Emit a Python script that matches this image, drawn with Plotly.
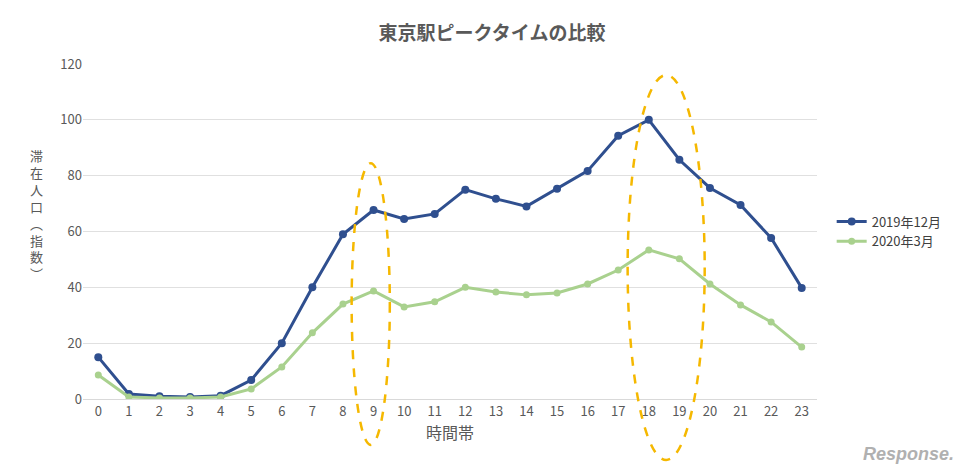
import plotly.graph_objects as go

hours = [str(h) for h in range(24)]
s2019 = [15, 1.8, 1, 0.7, 1.2, 6.8, 20, 40, 59, 67.7, 64.5, 66.3, 75, 71.7, 69, 75.3, 81.7, 94.3, 100, 85.7, 75.6, 69.5, 57.7, 39.8]
s2020 = [8.6, 0.7, 0.4, 0.4, 0.7, 3.6, 11.5, 23.7, 34, 38.7, 33, 34.8, 40, 38.3, 37.3, 38, 41.2, 46.2, 53.4, 50.2, 41.2, 33.7, 27.6, 18.6]
yticks = [0, 20, 40, 60, 80, 100, 120]
ylabel_chars = ["滞", "在", "人", "口", "︵", "指", "数", "︶"]

F = "Noto Sans CJK JP"
fig = go.Figure()
fig.add_trace(go.Scatter(x=hours, y=s2019, name="2019年12月", mode="lines+markers",
                         line=dict(color="#2F4F8F", width=3), marker=dict(size=8, color="#2F4F8F")))
fig.add_trace(go.Scatter(x=hours, y=s2020, name="2020年3月", mode="lines+markers",
                         line=dict(color="#A9D18E", width=3), marker=dict(size=7, color="#A9D18E")))

for x0, x1, y0, y1 in [(0.366, 0.418, -0.137, 0.704), (0.742, 0.847, -0.182, 0.967)]:
    fig.add_shape(type="circle", xref="paper", yref="paper", x0=x0, x1=x1, y0=y0, y1=y1,
                  line=dict(color="#F5B800", width=2.5, dash="dash"))

fig.add_annotation(text="<br>".join(ylabel_chars), xref="paper", yref="paper", x=-0.075, y=0.55,
                   showarrow=False, font=dict(size=13, color="#595959", family=F), align="center")
fig.add_annotation(text="<i><b>Response.</b></i>", xref="paper", yref="paper", x=1.19, xanchor="right",
                   y=-0.2, showarrow=False, font=dict(size=18, color="#B0B0B0", family="Liberation Sans"))

fig.update_layout(
    width=968, height=472, paper_bgcolor="white", plot_bgcolor="white",
    margin=dict(l=75, r=159, t=56, b=81),
    title=dict(text="<b>東京駅ピークタイムの比較</b>", x=0.5, y=0.96, xanchor="center",
               font=dict(size=19, color="#595959", family=F)),
    font=dict(family=F, color="#595959", size=13),
    showlegend=True,
    legend=dict(x=1.02, y=0.5, yanchor="middle", font=dict(size=13, color="#404040")),
    xaxis=dict(type="category", range=[-0.5, 23.5], showgrid=False, showline=True,
               linecolor="#D9D9D9", ticks="", title=dict(text="時間帯", standoff=8)),
    yaxis=dict(range=[0, 120], tickvals=yticks, gridcolor="#E0E0E0", zeroline=False,
               showline=False, ticks=""),
)
fig.write_html("out.html")
